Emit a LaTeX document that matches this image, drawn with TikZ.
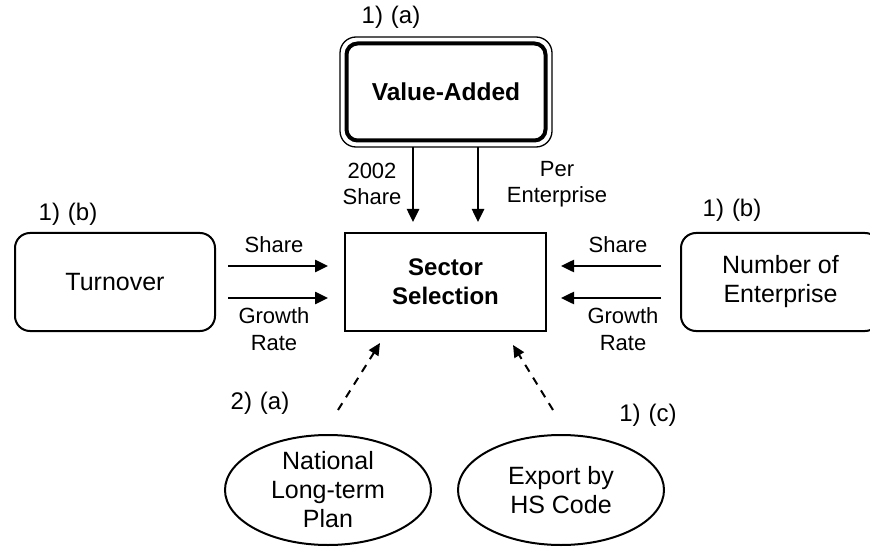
\documentclass[tikz,border=0pt]{standalone}
\usepackage{fontspec}
\setmainfont{Liberation Sans}
\usetikzlibrary{arrows.meta,shapes.geometric,calc}

\tikzset{
  boxtext/.style={font=\fontsize{25}{29}\selectfont, align=center},
  labeltext/.style={font=\fontsize{22}{26.5}\selectfont, align=center, inner sep=0pt},
  tagtext/.style={font=\fontsize{24}{28}\selectfont, inner sep=0pt},
  roundbox/.style={boxtext, draw, line width=2pt, rounded corners=15pt,
    minimum width=200pt, minimum height=98pt, outer sep=0pt},
  centrebox/.style={boxtext, draw, line width=2pt, font=\fontsize{24}{29}\selectfont\bfseries,
    minimum width=201pt, minimum height=98pt, outer sep=0pt},
  vaouter/.style={draw, line width=1.3pt, rounded corners=16pt,
    minimum width=212pt, minimum height=110pt, outer sep=0pt},
  vainner/.style={boxtext, draw, line width=4pt, rounded corners=11pt,
    font=\fontsize{24.5}{29}\selectfont\bfseries,
    minimum width=199pt, minimum height=97pt, outer sep=0pt},
  source/.style={boxtext, draw, ellipse, line width=2pt,
    minimum width=206pt, minimum height=110pt, inner sep=0pt, outer sep=0pt},
  arr/.style={line width=2.5pt, -{Triangle[length=13pt,width=12pt]}},
  dasharr/.style={line width=2pt, dash pattern=on 8pt off 7pt,
    -{Triangle[length=12pt,width=11pt]}},
}

\begin{document}
\begin{tikzpicture}[x=1pt, y=-1pt]
  \useasboundingbox (0,0) rectangle (870,556);

  % Value-added box with its double frame
  \node[vaouter] (vaout) at (446,92) {};
  \node[vainner] (va) at (vaout.center) {Value-Added};
  \node[tagtext] (tagva) at (391,17) {1)\,\,(a)};

  % Central box
  \node[centrebox] (sel) at (445.5,282) {Sector\\Selection};

  % Side boxes
  \node[roundbox] (turn) at (115,282) {Turnover};
  \node[tagtext] (tagturn) at (68,214) {1)\,\,(b)};
  \node[roundbox, minimum width=199pt] (num) at (780.5,282) {Number of\\Enterprise};
  \node[tagtext] (tagnum) at (732,210) {1)\,\,(b)};

  % Bottom sources
  \node[source] (plan) at (328,490) {National\\Long-term\\Plan};
  \node[tagtext] (tagplan) at (260,403) {2)\,\,(a)};
  \node[source] (hs) at (561,490) {Export by\\HS Code};
  \node[tagtext] (taghs) at (648,415) {1)\,\,(c)};

  % Arrows from value-added
  \draw[arr, shorten >=11pt] ([xshift=-33pt]vaout.south) -- ([xshift=-32.5pt]sel.north);
  \draw[arr, shorten >=11pt] ([xshift=32pt]vaout.south) -- ([xshift=32.5pt]sel.north);
  \node[labeltext] (l2002) at (372,184) {2002\\Share};
  \node[labeltext] (lper) at (557,184) {Per\\Enterprise};

  % Arrows from turnover
  \draw[arr, shorten <=13pt, shorten >=17pt] ([yshift=16pt]turn.east) -- ([yshift=16pt]sel.west);
  \draw[arr, shorten <=13pt, shorten >=17pt] ([yshift=-16pt]turn.east) -- ([yshift=-16pt]sel.west);
  \node[labeltext] (lts) at (274,245) {Share};
  \node[labeltext] (ltg) at (274,329) {Growth\\Rate};

  % Arrows from number of enterprise
  \draw[arr, shorten <=20pt, shorten >=15pt] ([yshift=16pt]num.west) -- ([yshift=16pt]sel.east);
  \draw[arr, shorten <=20pt, shorten >=15pt] ([yshift=-16pt]num.west) -- ([yshift=-16pt]sel.east);
  \node[labeltext] (lns) at (618,245) {Share};
  \node[labeltext] (lng) at (623,329) {Growth\\Rate};

  % Dashed arrows from the bottom sources
  \coordinate (planend) at ($(plan.north)+(10,-25)$);
  \coordinate (hsend) at ($(hs.north)+(-8,-25)$);
  \coordinate (selleft) at ($(sel.south)+(-65.5,12)$);
  \coordinate (selright) at ($(sel.south)+(67.5,14)$);
  \draw[dasharr] (planend) -- (selleft);
  \draw[dasharr] (hsend) -- (selright);
\end{tikzpicture}
\end{document}
